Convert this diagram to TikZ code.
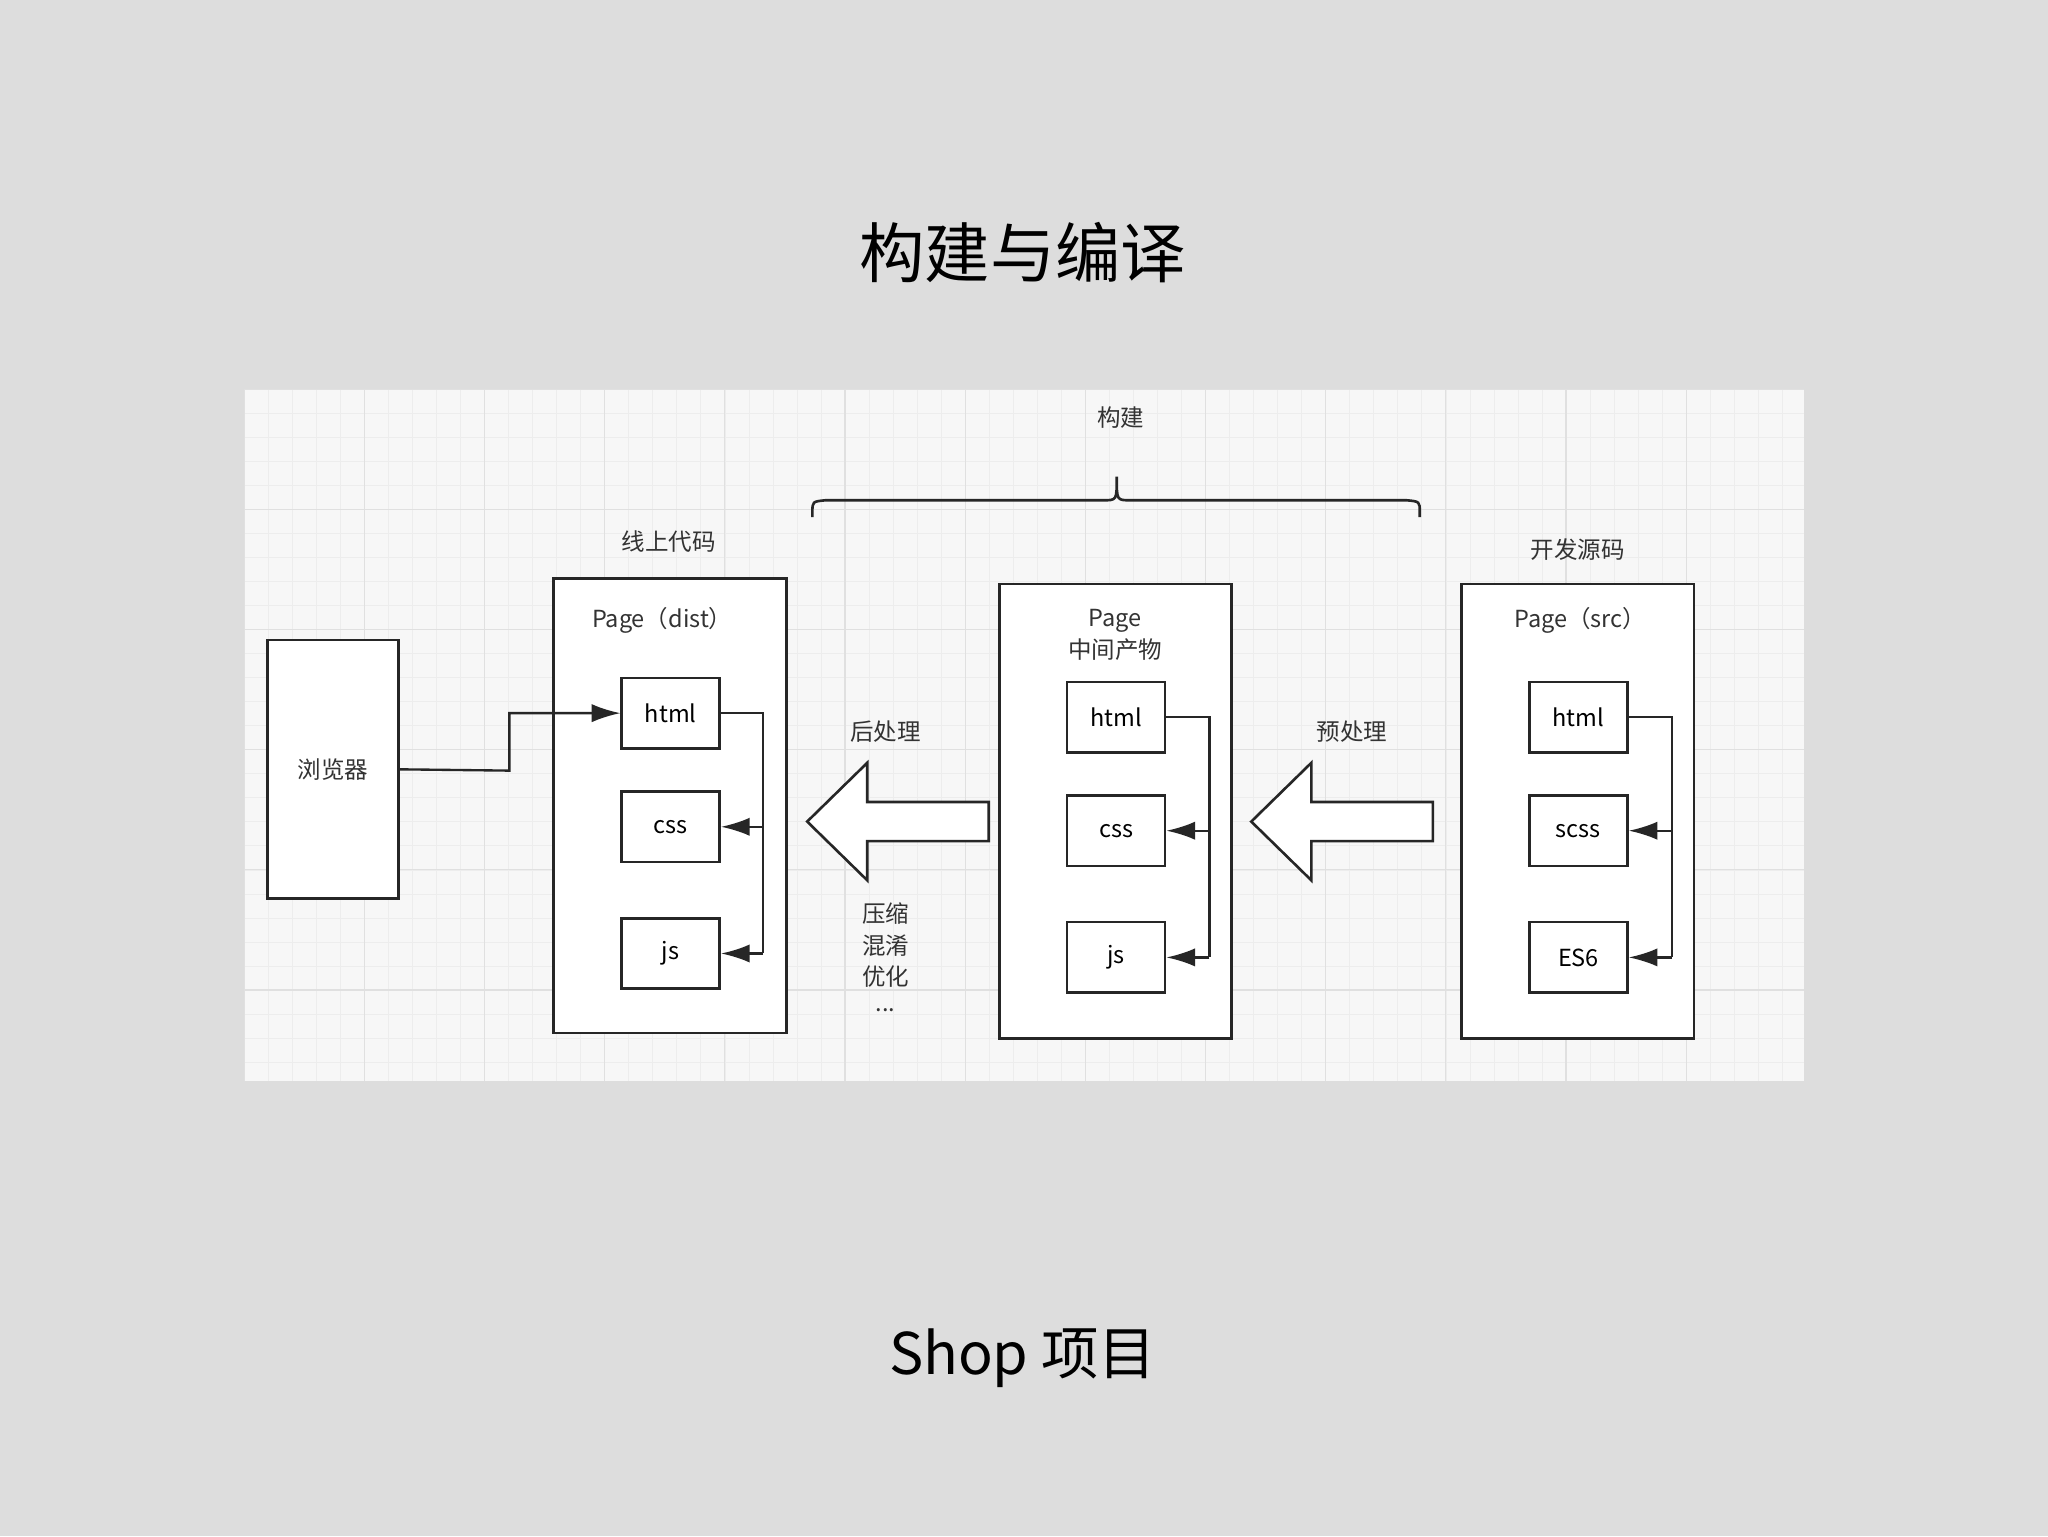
\documentclass[tikz,border=0pt]{standalone}
\usepackage{fontspec}
\setmainfont{Noto Sans CJK SC}
\usetikzlibrary{arrows.meta}
\begin{document}
\begin{tikzpicture}[x=1pt,y=-1pt,
  box/.style={draw=black!85,line width=2pt,fill=white},
  inner/.style={draw=black!85,line width=2pt,fill=white,minimum width=75pt,minimum height=54pt,font=\fontsize{18}{20}\selectfont},
  lbl/.style={font=\fontsize{18}{24}\selectfont,text=black!80},
  con/.style={draw=black!85,line width=1.8pt},
  arr/.style={con,-{Latex[length=22pt,width=14pt]}},
  big/.style={draw=black!85,line width=2pt,fill=white,line join=miter}]
\fill[fill={rgb,255:red,221;green,221;blue,221}] (0,0) rectangle (1568,1176);
\useasboundingbox (0,0) rectangle (1568,1176);
\node[font=\fontsize{50}{56}\selectfont] (title) at (783,193) {构建与编译};
\node[font=\fontsize{44}{50}\selectfont] (foot) at (783,1040) {Shop 项目};
% panel
\fill[white!97!black] (187,298) rectangle (1381,828);
\foreach \i in {0,...,64}{
  \pgfmathsetmacro\xx{187+18.4*\i}
  \draw[black!7,line width=0.6pt] (\xx,298) -- (\xx,828);
}
\foreach \i in {0,...,28}{
  \pgfmathsetmacro\yy{298+18.4*\i}
  \draw[black!7,line width=0.6pt] (187,\yy) -- (1381,\yy);
}
\foreach \i in {0,...,12}{
  \pgfmathsetmacro\xx{187+92*\i}
  \draw[black!12,line width=0.9pt] (\xx,298) -- (\xx,828);
}
\foreach \i in {0,...,5}{
  \pgfmathsetmacro\yy{298+92*\i}
  \draw[black!12,line width=0.9pt] (187,\yy) -- (1381,\yy);
}
\node[lbl] (gj) at (858,320) {构建};
\draw[line width=2pt,black!85] (622,396) -- (622,392) .. controls (622,384) .. (632,383) -- (845,383) .. controls (855,383) .. (855,365) .. controls (855,383) .. (865,383) -- (1077,383) .. controls (1087,384) .. (1087,392) -- (1087,396);
\node[lbl] (xs) at (512,415) {线上代码};
\node[lbl] (kf) at (1208,421) {开发源码};
% browser
\node[box,minimum width=100pt,minimum height=198pt,lbl] (br) at (255,589) {浏览器};
% dist
\draw[box] (424,443) rectangle (602,791);
\node[lbl] (pd) at (507,475) {Page（dist）};
\node[inner] (h1) at (513.5,546) {html};
\node[inner] (c1) at (513.5,633) {css};
\node[inner] (j1) at (513.5,730) {js};
% mid
\draw[box] (765,447) rectangle (943,795);
\node[lbl,align=center] (pm) at (854,486) {Page\\中间产物};
\node[inner] (h2) at (854.5,549) {html};
\node[inner] (c2) at (854.5,636) {css};
\node[inner] (j2) at (854.5,733) {js};
% src
\draw[box] (1119,447) rectangle (1297,795);
\node[lbl] (ps) at (1210,475) {Page（src）};
\node[inner] (h3) at (1208.5,549) {html};
\node[inner] (c3) at (1208.5,636) {scss};
\node[inner] (j3) at (1208.5,733) {ES6};
% connectors
\foreach \h/\c/\j/\x in {h1/c1/j1/584,h2/c2/j2/926,h3/c3/j3/1280}{
  \draw[con] (\h.east) -- (\x,0 |- \h.east) -- (\x,0 |- \j.east);
  \draw[arr] (\x,0 |- \c.east) -- (\c.east);
  \draw[arr] (\x,0 |- \j.east) -- (\j.east);
}
\draw[arr] (br.east) -- (390,590) -- (390,546) -- (h1.west);
% big arrows
\draw[big] (757,614) -- (664,614) -- (664,584) -- (618,629) -- (664,674) -- (664,644) -- (757,644) -- cycle;
\draw[big] (1097,614) -- (1004,614) -- (1004,584) -- (958,629) -- (1004,674) -- (1004,644) -- (1097,644) -- cycle;
\node[lbl] (hc) at (678,560) {后处理};
\node[lbl] (yc) at (1035,560) {预处理};
\node[lbl,align=center] (ys) at (678,733) {压缩\\混淆\\优化\\[-4pt]...};
\end{tikzpicture}
\end{document}
